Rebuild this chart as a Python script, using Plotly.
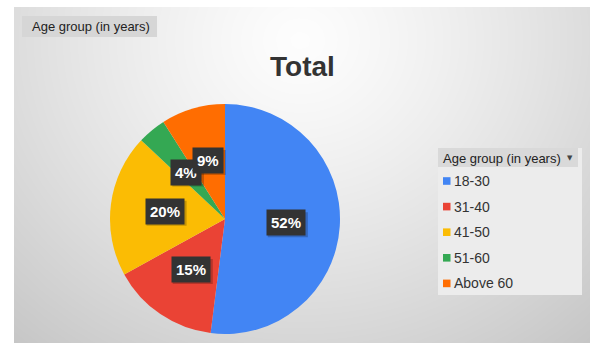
import numpy as np
import plotly.graph_objects as go

# ---- data ----
categories = ["18-30", "31-40", "41-50", "51-60", "Above 60"]
shares = [52, 15, 20, 4, 9]
slice_colors = ["#4285F4", "#EA4335", "#FBBC04", "#34A853", "#FF6D01"]
chart_title = "Total"
field_name = "Age group (in years)"

W, H = 595, 347
PANEL = (14, 7, 590, 343)          # left, top, right, bottom in px
PIE_C, PIE_R = (225, 219), 115     # pie centre / radius in px


def px(x):
    return x / W


def py(y):
    return 1 - y / H


def note(x, y, text, size, color, family="Arial", xanchor="center", **kw):
    return dict(x=px(x), y=py(y), xref="paper", yref="paper",
                xanchor=xanchor, yanchor="middle", text=text, showarrow=False,
                font=dict(family=family, size=size, color=color), **kw)


def box(x0, y0, x1, y1, fill):
    return dict(type="rect", xref="paper", yref="paper",
                x0=px(x0), x1=px(x1), y0=py(y1), y1=py(y0),
                fillcolor=fill, line=dict(width=0), layer="above")


fig = go.Figure()

# soft radial shading of the chart panel
gx = np.linspace(PANEL[0], PANEL[2], 70)
gy = np.linspace(PANEL[1], PANEL[3], 45)
XX, YY = np.meshgrid(gx, gy)
dist = np.sqrt((XX - 300) ** 2 + ((YY - 40) * 1.1) ** 2) / 420
shade = 253 - 52 * np.clip(dist, 0, 1.2) ** 1.25
fig.add_trace(go.Heatmap(
    x=gx, y=gy, z=shade, zmin=195, zmax=255, zsmooth="best",
    colorscale=[[0, "rgb(195,195,195)"], [1, "rgb(255,255,255)"]],
    showscale=False, hoverinfo="skip",
))

fig.add_trace(go.Pie(
    labels=categories, values=shares, sort=False,
    direction="clockwise", rotation=0,
    marker=dict(colors=slice_colors, line=dict(width=0)),
    textinfo="none", showlegend=False, hoverinfo="label+percent",
    domain=dict(x=[px(PIE_C[0] - PIE_R), px(PIE_C[0] + PIE_R)],
                y=[py(PIE_C[1] + PIE_R), py(PIE_C[1] - PIE_R)]),
))

annotations = []
shapes = []

# percentage badges placed at the middle of each slice
total = sum(shares)
cum = 0
for v in shares:
    mid = (cum + v / 2) / total * 2 * np.pi
    cum += v
    r = PIE_R * 0.53
    bx = PIE_C[0] + r * np.sin(mid)
    by = PIE_C[1] - r * np.cos(mid)
    label = f"{round(100 * v / total)}%"
    bw = 8.4 * (len(label) - 1) + 13.3 + 10
    bh = 25
    # soft drop shadow behind the badge
    shapes.append(box(bx - bw / 2 + 2, by - bh / 2 + 2, bx + bw / 2 + 2, by + bh / 2 + 2,
                      "rgba(0,0,0,0.22)"))
    annotations.append(note(bx, by, f"<b>{label}</b>", 15, "white",
                            bgcolor="#333333", borderpad=4))

# title
annotations.append(note(302, 66, f"<b>{chart_title}</b>", 28, "#333333"))

# field button, top left
shapes.append(box(22, 16, 157, 37, "#d6d6d6"))
annotations.append(note(30, 26.5, field_name, 13, "#222222", xanchor="left"))

# legend panel
shapes.append(box(438, 148, 582, 295, "#ececec"))
shapes.append(box(438, 148, 578, 167, "#d9d9d9"))
annotations.append(note(441, 158, field_name, 13, "#222222", xanchor="left"))
annotations.append(note(570, 157.5, "▼", 7, "#444444", family="DejaVu Sans"))

row_y0, row_step = 181, 25.6
for i, (name, col) in enumerate(zip(categories, slice_colors)):
    yc = row_y0 + i * row_step
    shapes.append(box(443, yc - 3.8, 450.5, yc + 3.8, col))
    annotations.append(note(451.5, yc, name, 14, "#333333", xanchor="left"))

fig.update_layout(
    width=W, height=H, margin=dict(l=0, r=0, t=0, b=0),
    paper_bgcolor="white", plot_bgcolor="white",
    xaxis=dict(domain=[px(PANEL[0]), px(PANEL[2])], range=[PANEL[0], PANEL[2]],
               visible=False, fixedrange=True),
    yaxis=dict(domain=[py(PANEL[3]), py(PANEL[1])], range=[PANEL[3], PANEL[1]],
               visible=False, fixedrange=True),
    shapes=shapes, annotations=annotations, showlegend=False,
)

fig.write_html("out.html")
